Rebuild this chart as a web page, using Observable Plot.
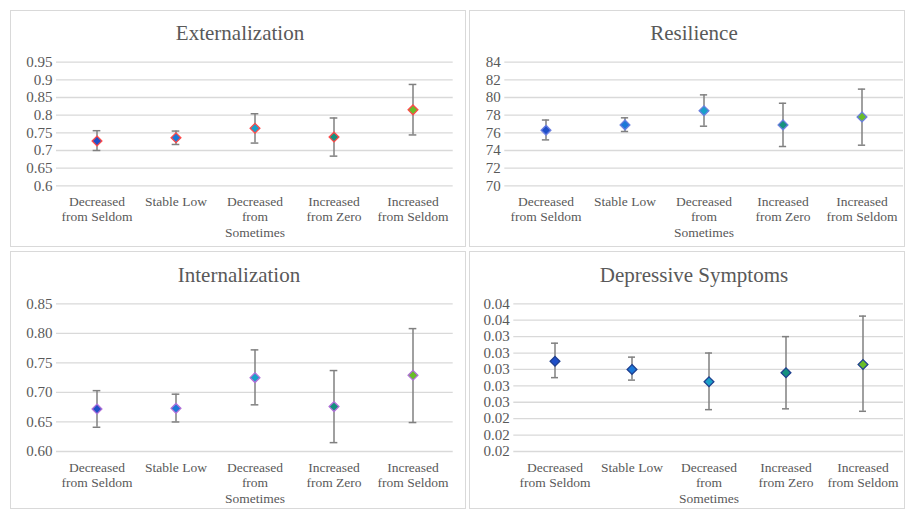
<!DOCTYPE html>
<html>
<head>
<meta charset="utf-8">
<script src="https://cdn.jsdelivr.net/npm/d3@7"></script>
<script src="https://cdn.jsdelivr.net/npm/@observablehq/plot@0.6"></script>
<style>
  html, body { margin: 0; padding: 0; background: #fff; }
  #wrap { position: relative; width: 905px; height: 509px; overflow: hidden; background: #fff; }
  .panel { position: absolute; box-sizing: border-box; border: 1.5px solid #d9d9d9; background: #fff; }
  .plot { position: absolute; }
  .title { position: absolute; width: 320px; text-align: center; font-family: "Liberation Serif", serif; font-size: 21px; line-height: 22px; color: #595959; }
</style>
</head>
<body>
<div id="wrap"></div>
<script>
// ---- data ----
const categories = ["Decreased from Seldom", "Stable Low", "Decreased from Sometimes", "Increased from Zero", "Increased from Seldom"];
const categoryLabels = ["Decreased\nfrom Seldom", "Stable Low", "Decreased\nfrom\nSometimes", "Increased\nfrom Zero", "Increased\nfrom Seldom"];
const markerFills = ["#1f4fc8", "#1b78d8", "#1aa0c8", "#14917f", "#68bd28"];

const extMean = [0.727, 0.736, 0.763, 0.738, 0.815];
const extLow  = [0.700, 0.717, 0.721, 0.684, 0.744];
const extHigh = [0.756, 0.755, 0.804, 0.792, 0.887];
const extTicks = [0.6, 0.65, 0.7, 0.75, 0.8, 0.85, 0.9, 0.95];

const resMean = [76.3, 76.9, 78.5, 76.9, 77.8];
const resLow  = [75.2, 76.15, 76.75, 74.45, 74.6];
const resHigh = [77.45, 77.7, 80.3, 79.35, 80.95];
const resTicks = [70, 72, 74, 76, 78, 80, 82, 84];

const intMean = [0.672, 0.673, 0.725, 0.676, 0.729];
const intLow  = [0.641, 0.650, 0.679, 0.615, 0.649];
const intHigh = [0.703, 0.697, 0.772, 0.737, 0.808];
const intTicks = [0.60, 0.65, 0.70, 0.75, 0.80, 0.85];

const depMean = [0.0310, 0.0300, 0.0285, 0.0296, 0.0306];
const depLow  = [0.0290, 0.0287, 0.0251, 0.0252, 0.0249];
const depHigh = [0.0332, 0.0315, 0.0320, 0.0340, 0.0365];
const depTicks = [0.020, 0.022, 0.024, 0.026, 0.028, 0.030, 0.032, 0.034, 0.036, 0.038];

// ---- panels ----
const wrap = document.getElementById("wrap");
const labelOf = Object.fromEntries(categories.map((c, i) => [c, categoryLabels[i]]));

function makeRows(mean, low, high) {
  return categories.map((c, i) => ({cat: c, mean: mean[i], low: low[i], high: high[i], fill: markerFills[i]}));
}

function panel(cfg) {
  const box = document.createElement("div");
  box.className = "panel";
  Object.assign(box.style, {left: cfg.left + "px", top: cfg.top + "px", width: cfg.width + "px", height: cfg.height + "px"});
  wrap.appendChild(box);

  const rows = makeRows(cfg.mean, cfg.low, cfg.high);
  const plotW = cfg.width - cfg.ml - cfg.mr;
  const bw = plotW / categories.length;
  const capW = 8;
  const inset = (bw - capW) / 2;

  const chart = Plot.plot({
    width: cfg.width,
    height: cfg.height,
    marginLeft: cfg.ml,
    marginRight: cfg.mr,
    marginTop: cfg.mt,
    marginBottom: cfg.mb,
    style: {fontFamily: "Liberation Serif, serif", fontSize: "13px", color: "#595959", background: "transparent", overflow: "visible"},
    x: {type: "band", domain: categories, padding: 0},
    y: {domain: [cfg.ticks[0], cfg.ticks[cfg.ticks.length - 1]]},
    color: {type: "identity"},
    marks: [
      Plot.gridY({ticks: cfg.ticks, stroke: "#d9d9d9", strokeOpacity: 1, strokeWidth: 1.3}),
      Plot.axisY({ticks: cfg.ticks, tickSize: 0, tickPadding: 4, tickFormat: cfg.fmt, fontSize: 15, label: null, fill: "#595959"}),
      Plot.axisX({tickSize: 0, tickPadding: 9, tickFormat: d => labelOf[d], lineHeight: 1.15, label: null, fill: "#595959", fontSize: 13.5}),
      Plot.ruleX(rows, {x: "cat", y1: "low", y2: "high", stroke: "#808080", strokeWidth: 1.5}),
      Plot.tickY(rows, {x: "cat", y: "high", stroke: "#808080", strokeWidth: 1.5, insetLeft: inset, insetRight: inset}),
      Plot.tickY(rows, {x: "cat", y: "low", stroke: "#808080", strokeWidth: 1.5, insetLeft: inset, insetRight: inset}),
      Plot.dot(rows, {x: "cat", y: "mean", symbol: "diamond2", r: 4.4, fill: "fill", stroke: cfg.outline, strokeWidth: 1.3})
    ]
  });
  chart.classList.add("plot");
  chart.style.left = cfg.left + "px";
  chart.style.top = cfg.top + "px";
  wrap.appendChild(chart);

  const t = document.createElement("div");
  t.className = "title";
  t.textContent = cfg.title;
  t.style.left = (cfg.titleX - 160) + "px";
  t.style.top = (cfg.titleY - 11) + "px";
  wrap.appendChild(t);
}

panel({title: "Externalization", left: 10, top: 10, width: 456, height: 237, ml: 46, mr: 13.3, mt: 51.7, mb: 61.7,
  ticks: extTicks, fmt: d => String(+d.toFixed(2)), mean: extMean, low: extLow, high: extHigh, outline: "#ff4a4a", titleX: 240, titleY: 33});
panel({title: "Resilience", left: 469, top: 10, width: 436, height: 237, ml: 35.3, mr: 2, mt: 51.7, mb: 61.7,
  ticks: resTicks, fmt: d => String(d), mean: resMean, low: resLow, high: resHigh, outline: "#6c7fe0", titleX: 694, titleY: 33});
panel({title: "Internalization", left: 10, top: 251, width: 456, height: 258, ml: 46, mr: 13.3, mt: 52.3, mb: 58,
  ticks: intTicks, fmt: d3.format(".2f"), mean: intMean, low: intLow, high: intHigh, outline: "#b070d8", titleX: 239, titleY: 275});
panel({title: "Depressive Symptoms", left: 469, top: 251, width: 436, height: 258, ml: 44.3, mr: 2, mt: 52.3, mb: 58,
  ticks: depTicks, fmt: d3.format(".2f"), mean: depMean, low: depLow, high: depHigh, outline: "#1f3f8f", titleX: 694, titleY: 275});
</script>
</body>
</html>
